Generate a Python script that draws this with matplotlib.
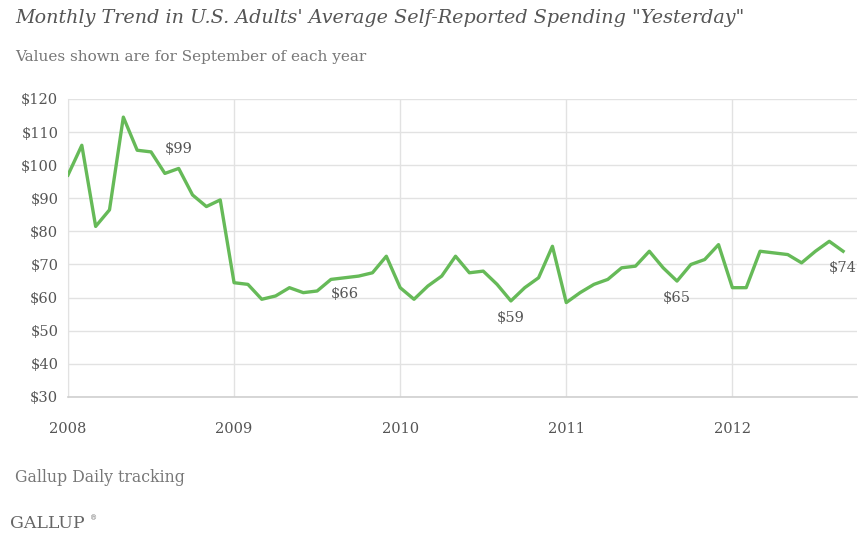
import matplotlib
matplotlib.use("Agg")
import matplotlib.pyplot as plt
import numpy as np

# Monthly average self-reported spending, Jan 2008 .. Sep 2012
spending = [
    97, 106, 81.5, 86.5, 114.5, 104.5, 104, 97.5, 99, 91, 87.5, 89.5,      # 2008
    64.5, 64, 59.5, 60.5, 63, 61.5, 62, 65.5, 66, 66.5, 67.5, 72.5,        # 2009
    63, 59.5, 63.5, 66.5, 72.5, 67.5, 68, 64, 59, 63, 66, 75.5,            # 2010
    58.5, 61.5, 64, 65.5, 69, 69.5, 74, 69, 65, 70, 71.5, 76,              # 2011
    63, 63, 74, 73.5, 73, 70.5, 74, 77, 74,                                # 2012
]
years = ["2008", "2009", "2010", "2011", "2012"]
y_ticks = [30, 40, 50, 60, 70, 80, 90, 100, 110, 120]

# September points that get a value label
labelled = [8, 20, 32, 44, 56]
label_text = ["$99", "$66", "$59", "$65", "$74"]

SERIF = "DejaVu Serif"
LINE_GREEN = "#66ba58"
GRID = "#e2e2e2"

fig = plt.figure(figsize=(8.67, 5.39), dpi=100)
ax = fig.add_axes([0.0784, 0.2635, 0.910, 0.553])

months = np.arange(len(spending))
ax.plot(months, spending, color=LINE_GREEN, lw=2.4, solid_joinstyle="round", zorder=3)

ax.set_xlim(0, 57)
ax.set_ylim(30, 120)
ax.set_yticks(y_ticks)
ax.set_yticklabels([f"${v}" for v in y_ticks])
ax.set_xticks([12 * i for i in range(len(years))])
ax.set_xticklabels(years)
ax.tick_params(length=0, labelsize=10.5, labelcolor="#555555", pad=7)
ax.tick_params(axis="x", pad=18)
for lab in ax.get_xticklabels() + ax.get_yticklabels():
    lab.set_family(SERIF)

ax.grid(True, color=GRID, lw=1.0)
ax.set_axisbelow(True)
for side in ("top", "right"):
    ax.spines[side].set_visible(False)
ax.spines["left"].set_color(GRID)
ax.spines["bottom"].set_color("#cfcfcf")
ax.spines["bottom"].set_linewidth(1.2)

for idx, txt in zip(labelled, label_text):
    if idx == 8:
        ax.annotate(txt, (idx, spending[idx]), xytext=(0, 9), textcoords="offset points",
                    ha="center", va="bottom", fontsize=10.5, color="#555555", family=SERIF)
    else:
        ax.annotate(txt, (idx, spending[idx]), xytext=(0, -7), textcoords="offset points",
                    ha="center", va="top", fontsize=10.5, color="#555555", family=SERIF)

fig.text(15 / 867, 1 - 18 / 539,
         "Monthly Trend in U.S. Adults' Average Self-Reported Spending \"Yesterday\"",
         fontsize=13.8, style="italic", color="#555555", family=SERIF, va="center")
fig.text(15 / 867, 1 - 57 / 539, "Values shown are for September of each year",
         fontsize=11, color="#777777", family=SERIF, va="center")
fig.text(15 / 867, 1 - 477 / 539, "Gallup Daily tracking",
         fontsize=11.3, color="#777777", family=SERIF, va="center")
fig.text(10 / 867, 1 - 523 / 539, "GALLUP",
         fontsize=12.5, color="#666666", family=SERIF, va="center")
fig.text(90 / 867, 1 - 518 / 539, "\u00ae",
         fontsize=5, color="#666666", family=SERIF, va="center")

fig.savefig("out.png", dpi=100)
